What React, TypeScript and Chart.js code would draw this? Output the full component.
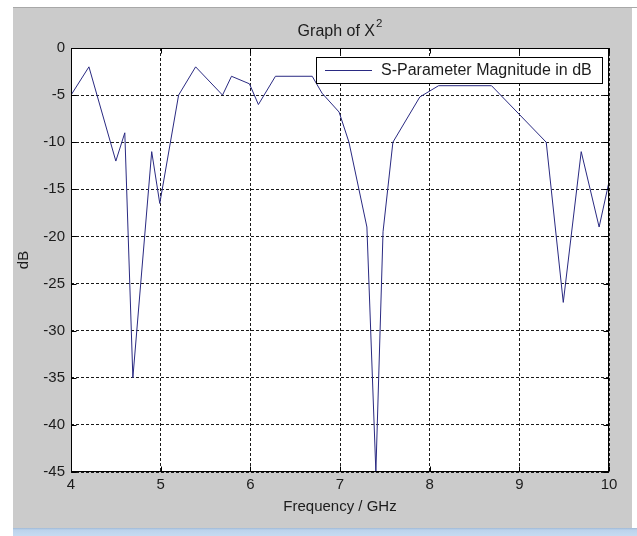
import React, { useEffect, useRef } from "react";
import { Chart, registerables } from "chart.js";

Chart.register(...registerables);

const chartTitle = "Graph of X";
const chartTitleSup = "2";
const seriesLabel = "S-Parameter Magnitude in dB";
const xAxisLabel = "Frequency / GHz";
const yAxisLabel = "dB";

const frequencyGHz = [
  4.0, 4.2, 4.5, 4.6, 4.69, 4.9, 4.99, 5.2, 5.39, 5.69, 5.79, 5.99, 6.09, 6.28,
  6.69, 6.8, 6.99, 7.1, 7.3, 7.4, 7.48, 7.59, 7.89, 8.1, 8.69, 9.3, 9.49, 9.69,
  9.89, 10.0,
];
const magnitudeDb = [
  -5, -2, -12, -9, -35, -11, -16.5, -5, -2, -5, -3, -3.8, -6, -3, -3, -4.8,
  -6.8, -10, -19, -45, -19.5, -10, -5.2, -4, -4, -10, -27, -11, -19, -14.2,
];
const xTickValues = [4, 5, 6, 7, 8, 9, 10];
const yTickValues = [0, -5, -10, -15, -20, -25, -30, -35, -40, -45];

const FONT = "'Liberation Sans', Arial, sans-serif";
const TEXT = "#1c1c1c";
const LINE = "#2a2a82";

const framePlugin = {
  id: "matlabFrame",
  beforeDraw(chart: any) {
    const { ctx, width, height, chartArea } = chart;
    ctx.save();
    ctx.fillStyle = "#ffffff";
    ctx.fillRect(0, 0, width, height);
    ctx.fillStyle = "#cbcbcb";
    ctx.fillRect(13, 8, 619, 520);
    ctx.fillStyle = "#a8a8a8";
    ctx.fillRect(13, 7, 624, 1);
    const g = ctx.createLinearGradient(0, 528, 0, 536);
    g.addColorStop(0, "#9fb9d6");
    g.addColorStop(0.25, "#bcd3ec");
    g.addColorStop(1, "#c6dbf1");
    ctx.fillStyle = g;
    ctx.fillRect(13, 528, 624, 8);
    ctx.fillStyle = "#ffffff";
    ctx.fillRect(
      chartArea.left,
      chartArea.top,
      chartArea.right - chartArea.left,
      chartArea.bottom - chartArea.top
    );
    ctx.restore();
  },
  afterDatasetsDraw(chart: any) {
    const { ctx, chartArea } = chart;
    const xs = chart.scales.x;
    const ys = chart.scales.y;
    const L = Math.round(chartArea.left) + 0.5;
    const R = Math.round(chartArea.right) - 0.5;
    const T = Math.round(chartArea.top) + 0.5;
    const B = Math.round(chartArea.bottom) - 0.5;
    ctx.save();
    ctx.strokeStyle = "#000000";
    ctx.lineWidth = 1;
    ctx.setLineDash([]);
    ctx.beginPath();
    const tl = 5;
    xTickValues.forEach((v) => {
      const px = Math.round(xs.getPixelForValue(v)) + 0.5;
      ctx.moveTo(px, B);
      ctx.lineTo(px, B - tl);
      ctx.moveTo(px, T);
      ctx.lineTo(px, T + tl);
    });
    yTickValues.forEach((v) => {
      const py = Math.round(ys.getPixelForValue(v)) + 0.5;
      ctx.moveTo(L, py);
      ctx.lineTo(L + tl, py);
      ctx.moveTo(R, py);
      ctx.lineTo(R - tl, py);
    });
    ctx.stroke();
    ctx.strokeRect(L, T, R - L, B - T);
    ctx.restore();
  },
  afterDraw(chart: any) {
    const { ctx, chartArea } = chart;
    ctx.save();
    // title with superscript
    ctx.fillStyle = TEXT;
    ctx.textBaseline = "alphabetic";
    ctx.font = `16px ${FONT}`;
    const mainW = ctx.measureText(chartTitle).width;
    ctx.font = `11.5px ${FONT}`;
    const supW = ctx.measureText(chartTitleSup).width;
    const cx = (chartArea.left + chartArea.right) / 2;
    const startX = cx - (mainW + supW + 1) / 2;
    ctx.font = `16px ${FONT}`;
    ctx.textAlign = "left";
    ctx.fillText(chartTitle, startX, 36);
    ctx.font = `11.5px ${FONT}`;
    ctx.fillText(chartTitleSup, startX + mainW + 1, 27);

    // legend box inside the axes
    const ds = chart.data.datasets[0];
    const bx = 316.5, by = 57.5, bw = 286, bh = 26;
    ctx.fillStyle = "#ffffff";
    ctx.fillRect(bx, by, bw, bh);
    ctx.strokeStyle = "#000000";
    ctx.lineWidth = 1;
    ctx.strokeRect(bx, by, bw, bh);
    ctx.strokeStyle = ds.borderColor;
    ctx.beginPath();
    ctx.moveTo(325, 70.5);
    ctx.lineTo(372, 70.5);
    ctx.stroke();
    ctx.fillStyle = TEXT;
    ctx.font = `16px ${FONT}`;
    ctx.textBaseline = "middle";
    ctx.fillText(ds.label, 381, 71);
    ctx.restore();
  },
};

export default function App() {
  const ref = useRef<HTMLCanvasElement>(null);
  useEffect(() => {
    if (!ref.current) return;
    const points = frequencyGHz.map((f, i) => ({ x: f, y: magnitudeDb[i] }));
    const chart = new Chart(ref.current, {
      type: "scatter",
      data: {
        datasets: [
          {
            label: seriesLabel,
            data: points,
            showLine: true,
            borderColor: LINE,
            backgroundColor: LINE,
            borderWidth: 1,
            pointRadius: 0,
            pointHoverRadius: 0,
            tension: 0,
          },
        ],
      },
      options: {
        animation: false,
        responsive: false,
        devicePixelRatio: 1,
        events: [],
        layout: { padding: { top: 48, right: 28, left: 0, bottom: 0 } },
        plugins: {
          legend: { display: false },
          title: { display: false },
          tooltip: { enabled: false },
        },
        scales: {
          x: {
            type: "linear",
            min: 4,
            max: 10,
            afterFit: (s: any) => {
              s.height = 64;
            },
            afterBuildTicks: (s: any) => {
              s.ticks = xTickValues.map((v) => ({ value: v }));
            },
            ticks: {
              color: TEXT,
              font: { family: FONT, size: 15 },
              padding: 4,
              maxRotation: 0,
            },
            grid: { color: "#1a1a1a", lineWidth: 1, drawTicks: false },
            border: { display: false, dash: [3, 2] },
            title: {
              display: true,
              text: xAxisLabel,
              color: TEXT,
              font: { family: FONT, size: 15 },
              padding: { top: 0, bottom: 20 },
            },
          },
          y: {
            type: "linear",
            min: -45,
            max: 0,
            afterFit: (s: any) => {
              s.width = 71;
            },
            afterBuildTicks: (s: any) => {
              s.ticks = yTickValues.map((v) => ({ value: v }));
            },
            ticks: {
              color: TEXT,
              font: { family: FONT, size: 15 },
              padding: 6,
            },
            grid: { color: "#1a1a1a", lineWidth: 1, drawTicks: false },
            border: { display: false, dash: [3, 2] },
            title: {
              display: true,
              text: yAxisLabel,
              color: TEXT,
              font: { family: FONT, size: 15 },
              padding: { top: 15, bottom: 0 },
            },
          },
        },
      },
      plugins: [framePlugin],
    });
    return () => chart.destroy();
  }, []);
  return (
    <div style={{ position: "absolute", left: 0, top: 0, width: 637, height: 536 }}>
      <canvas ref={ref} width={637} height={536} style={{ display: "block" }} />
    </div>
  );
}
